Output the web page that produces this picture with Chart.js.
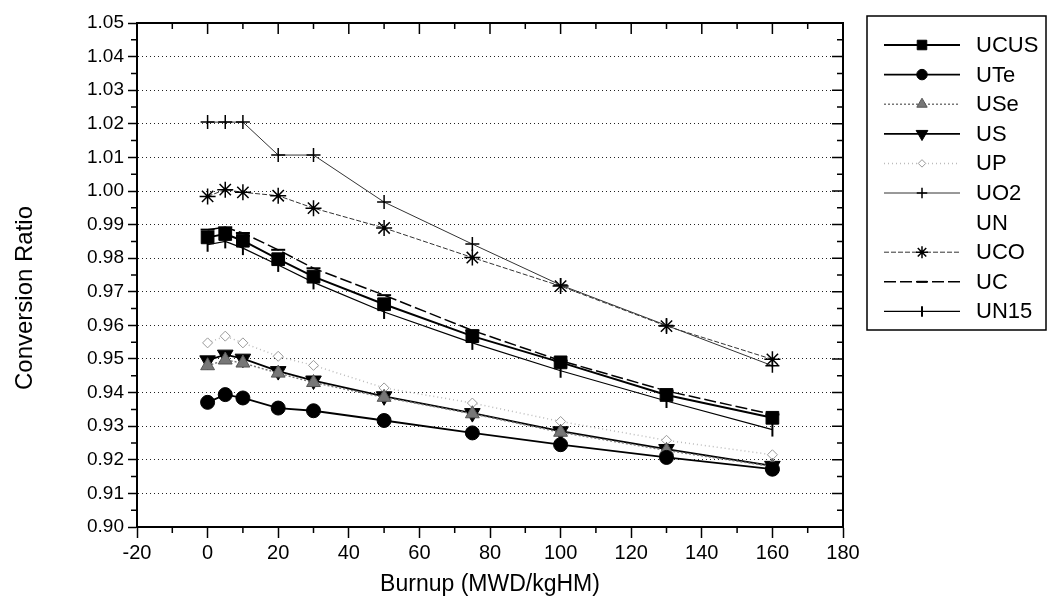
<!DOCTYPE html>
<html>
<head>
<meta charset="utf-8">
<script src="https://cdn.jsdelivr.net/npm/chart.js@4.4.0/dist/chart.umd.min.js"></script>
<style>
  html, body { margin: 0; padding: 0; background: #fff; }
</style>
</head>
<body>
<canvas id="chart" width="1049" height="610"></canvas>
<script>
// burnup steps (MWD/kgHM)
var burnup = [0, 5, 10, 20, 30, 50, 75, 100, 130, 160];

// conversion ratio per fuel
var ucus = [0.9862, 0.9872, 0.9852, 0.9797, 0.9745, 0.9663, 0.9568, 0.9490, 0.9393, 0.9325];
var ute  = [0.9371, 0.9394, 0.9384, 0.9354, 0.9346, 0.9317, 0.9280, 0.9245, 0.9207, 0.9172];
var use  = [0.9480, 0.9497, 0.9488, 0.9458, 0.9430, 0.9386, 0.9337, 0.9282, 0.9228, 0.9180];
var us   = [0.9496, 0.9513, 0.9501, 0.9464, 0.9436, 0.9389, 0.9339, 0.9285, 0.9232, 0.9182];
var up   = [0.9548, 0.9568, 0.9548, 0.9508, 0.9481, 0.9414, 0.9369, 0.9314, 0.9258, 0.9215];
var uo2  = [1.0205, 1.0205, 1.0205, 1.0107, 1.0107, 0.9967, 0.9842, 0.9720, 0.9600, 0.9480];
var un   = [];
var uco  = [0.9984, 1.0004, 0.9996, 0.9986, 0.9949, 0.9890, 0.9802, 0.9717, 0.9598, 0.9499];
var uc   = [0.9885, 0.9892, 0.9875, 0.9825, 0.9770, 0.9690, 0.9585, 0.9495, 0.9405, 0.9335];
var un15 = [0.9840, 0.9850, 0.9830, 0.9780, 0.9728, 0.9640, 0.9548, 0.9465, 0.9375, 0.9290];

var xRange = [-20, 180];
var yRange = [0.90, 1.05];
var yTitle = 'Conversion Ratio';

const FONT = "'Liberation Sans', Arial, sans-serif";

function pts(arr) {
    return arr.map((v, i) => ({ x: burnup[i], y: v }));
}

function series(label, arr, style) {
    return Object.assign({
        label: label,
        data: pts(arr),
        borderColor: '#000',
        backgroundColor: '#000',
        pointBorderColor: '#000',
        pointBackgroundColor: '#000',
        borderWidth: 1.5,
        pointBorderWidth: 1,
        tension: 0,
        fill: false
    }, style);
}

const datasets = [
    series('UCUS', ucus, { borderWidth: 2, pointStyle: 'rect', pointRadius: 9 }),
    series('UTe', ute, { borderWidth: 1.8, pointStyle: 'circle', pointRadius: 7 }),
    series('USe', use, { borderColor: '#777', borderDash: [2, 2], pointStyle: 'triangle', pointRadius: 8,
        pointBackgroundColor: '#777', pointBorderColor: '#555', backgroundColor: '#777' }),
    series('US', us, { borderWidth: 1.8, pointStyle: 'triangle', pointRotation: 180, pointRadius: 9 }),
    series('UP', up, { borderColor: '#bbb', borderDash: [1, 3], pointStyle: 'rectRot', pointRadius: 5,
        pointBackgroundColor: '#fff', pointBorderColor: '#999', backgroundColor: '#fff' }),
    series('UO2', uo2, { borderColor: '#333', borderWidth: 1, pointStyle: 'cross', pointRadius: 7,
        pointBorderWidth: 1.5 }),
    series('UN', un, { borderColor: 'rgba(0,0,0,0)', pointRadius: 0, borderWidth: 0 }),
    series('UCO', uco, { borderColor: '#333', borderWidth: 1, borderDash: [5, 2], pointStyle: 'star',
        pointRadius: 8, pointBorderWidth: 1.5 }),
    series('UC', uc, { borderDash: [12, 4], pointStyle: 'line', pointRadius: 7, pointBorderWidth: 2 }),
    series('UN15', un15, { borderWidth: 1.2, pointStyle: 'line', pointRotation: 90, pointRadius: 7,
        pointBorderWidth: 2 })
];

// axis frame: top/right border, inward ticks there, minor ticks on left/bottom
const framePlugin = {
    id: 'frame',
    afterDraw(chart) {
        const ctx = chart.ctx, a = chart.chartArea;
        const xs = chart.scales.x, ys = chart.scales.y;
        ctx.save();
        ctx.strokeStyle = '#000';
        ctx.lineWidth = 2;
        ctx.beginPath();
        ctx.moveTo(a.left, a.top);
        ctx.lineTo(a.right, a.top);
        ctx.lineTo(a.right, a.bottom);
        ctx.stroke();

        ctx.lineWidth = 1.5;
        ctx.beginPath();
        xs.ticks.forEach((t, i) => {
            const px = xs.getPixelForValue(t.value);
            ctx.moveTo(px, a.top); ctx.lineTo(px, a.top + 11);
            if (i < xs.ticks.length - 1) {
                const mx = xs.getPixelForValue((t.value + xs.ticks[i + 1].value) / 2);
                ctx.moveTo(mx, a.top); ctx.lineTo(mx, a.top + 6);
                ctx.moveTo(mx, a.bottom); ctx.lineTo(mx, a.bottom + 6);
            }
        });
        ys.ticks.forEach((t, i) => {
            const py = ys.getPixelForValue(t.value);
            ctx.moveTo(a.right, py); ctx.lineTo(a.right - 11, py);
            if (i < ys.ticks.length - 1) {
                const my = ys.getPixelForValue((t.value + ys.ticks[i + 1].value) / 2);
                ctx.moveTo(a.right, my); ctx.lineTo(a.right - 6, my);
                ctx.moveTo(a.left, my); ctx.lineTo(a.left - 6, my);
            }
        });
        ctx.stroke();

        // y axis title, sits a little below the middle of the axis as in the original
        ctx.fillStyle = '#000';
        ctx.font = '24px ' + FONT;
        ctx.textAlign = 'center';
        ctx.textBaseline = 'middle';
        ctx.translate(25, 298);
        ctx.rotate(-Math.PI / 2);
        ctx.fillText(yTitle, 0, 0);
        ctx.restore();
    }
};

// boxed legend on the right, each row a line sample with its marker
const legendBox = { left: 867, top: 16, right: 1046, bottom: 330, rowTop: 45, rowGap: 29.6,
    lineFrom: 884, lineTo: 960, textX: 976 };

const boxLegendPlugin = {
    id: 'boxLegend',
    afterDraw(chart) {
        const ctx = chart.ctx, L = legendBox;
        ctx.save();
        ctx.strokeStyle = '#000';
        ctx.lineWidth = 1.5;
        ctx.strokeRect(L.left, L.top, L.right - L.left, L.bottom - L.top);

        chart.data.datasets.forEach((ds, i) => {
            const y = L.rowTop + i * L.rowGap;
            const mid = (L.lineFrom + L.lineTo) / 2;
            if (ds.borderWidth > 0) {
                ctx.save();
                ctx.strokeStyle = ds.borderColor;
                ctx.lineWidth = ds.borderWidth;
                ctx.setLineDash(ds.borderDash || []);
                ctx.beginPath();
                ctx.moveTo(L.lineFrom, y);
                ctx.lineTo(L.lineTo, y);
                ctx.stroke();
                ctx.restore();
            }
            if (ds.pointRadius > 0) {
                ctx.save();
                ctx.fillStyle = ds.pointBackgroundColor;
                ctx.strokeStyle = ds.pointBorderColor;
                ctx.lineWidth = ds.pointBorderWidth;
                Chart.helpers.drawPoint(ctx, {
                    pointStyle: ds.pointStyle,
                    radius: ds.pointRadius * 0.75,
                    rotation: ds.pointRotation || 0,
                    borderWidth: ds.pointBorderWidth
                }, mid, y);
                ctx.restore();
            }
            ctx.fillStyle = '#000';
            ctx.font = '22px ' + FONT;
            ctx.textBaseline = 'middle';
            ctx.textAlign = 'left';
            ctx.fillText(ds.label, L.textX, y + 1);
        });
        ctx.restore();
    }
};

const ctx = document.getElementById('chart');
const chart = new Chart(ctx, {
    type: 'line',
    data: { datasets: datasets },
    options: {
        responsive: false,
        animation: false,
        devicePixelRatio: 1,
        layout: { padding: { top: 23, right: 206, left: 0, bottom: 0 } },
        plugins: {
            legend: { display: false },
            tooltip: { enabled: false }
        },
        scales: {
            x: {
                type: 'linear',
                min: xRange[0],
                max: xRange[1],
                afterFit: function (scale) { scale.height = 83; },
                ticks: {
                    stepSize: 20,
                    color: '#000',
                    padding: 3,
                    maxRotation: 0,
                    font: { family: FONT, size: 20 }
                },
                grid: {
                    drawOnChartArea: false,
                    drawTicks: true,
                    tickLength: 11,
                    tickColor: '#000',
                    tickWidth: 1.5
                },
                border: { color: '#000', width: 2 },
                title: {
                    display: true,
                    text: 'Burnup (MWD/kgHM)',
                    color: '#000',
                    font: { family: FONT, size: 23 },
                    padding: { top: 0, bottom: 12 }
                }
            },
            y: {
                min: yRange[0],
                max: yRange[1],
                afterFit: function (scale) { scale.width = 137; },
                ticks: {
                    stepSize: 0.01,
                    color: '#000',
                    padding: 4,
                    font: { family: FONT, size: 19 },
                    callback: function (value) { return value.toFixed(2); }
                },
                grid: {
                    color: '#222',
                    lineWidth: 1,
                    drawTicks: true,
                    tickLength: 9,
                    tickColor: '#000',
                    tickWidth: 1.5
                },
                border: { color: '#000', width: 2, dash: [1, 3] }
            }
        }
    },
    plugins: [framePlugin, boxLegendPlugin]
});
</script>
</body>
</html>
